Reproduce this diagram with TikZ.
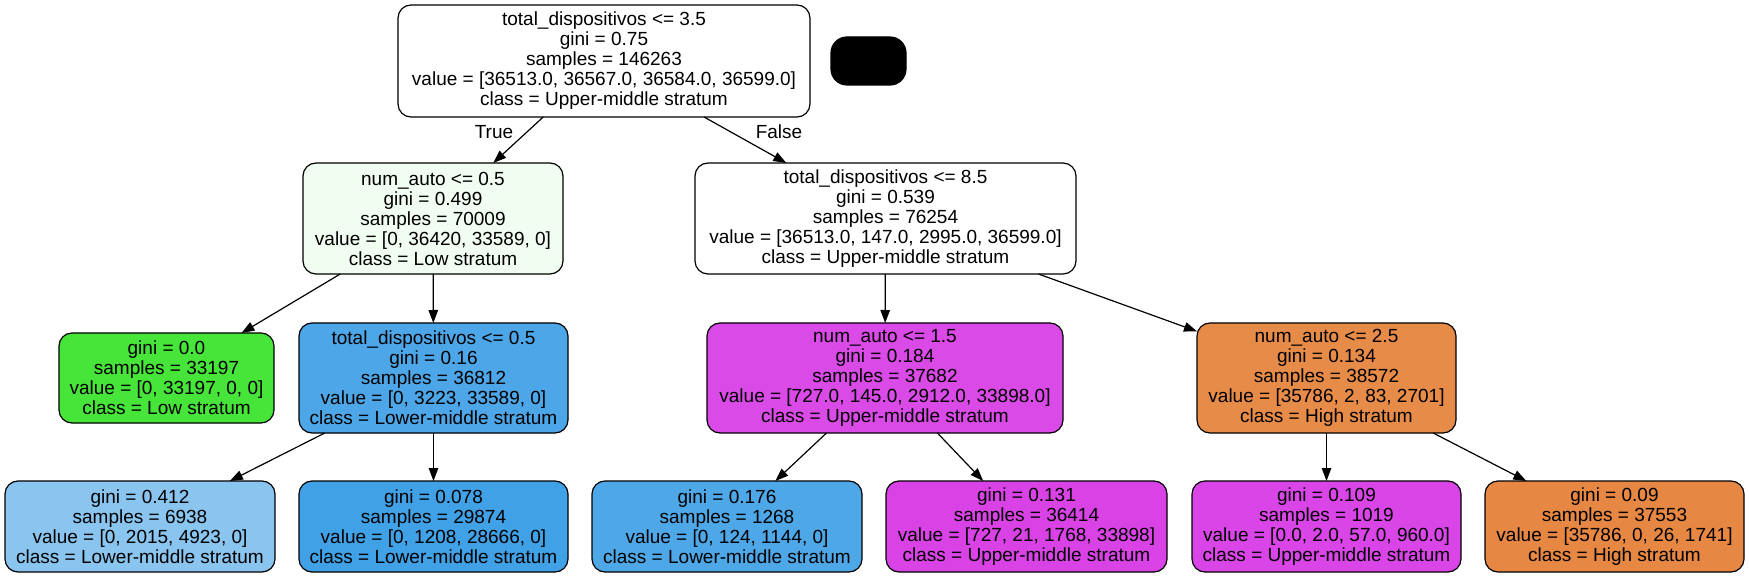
\documentclass[tikz,border=0pt]{standalone}
\usepackage{fontspec}
\setmainfont{Liberation Sans}
\usetikzlibrary{arrows.meta}
\newcommand\treefont{\fontsize{19}{20}\selectfont}
\definecolor{cRoot}{HTML}{FFFFFF}
\definecolor{cA}{HTML}{F1FDF0}
\definecolor{cB}{HTML}{FFFFFF}
\definecolor{cGreen}{HTML}{47E539}
\definecolor{cBL}{HTML}{4CA6E7}
\definecolor{cLB}{HTML}{8AC5F0}
\definecolor{cB2}{HTML}{41A1E6}
\definecolor{cB3}{HTML}{4EA8E8}
\definecolor{cMG}{HTML}{DA4AE7}
\definecolor{cM2}{HTML}{D943E6}
\definecolor{cM3}{HTML}{D945E7}
\definecolor{cOR}{HTML}{E78B48}
\definecolor{cO2}{HTML}{E68743}
\tikzset{
  tn/.style={draw=black, rounded corners=13pt, inner sep=0pt, outer sep=0pt,
    align=center, font=\treefont, line width=1.2pt},
  edge/.style={line width=1.2pt, -{Triangle[length=13pt,width=9.5pt]}},
  lbl/.style={font=\treefont, inner sep=0pt}
}
\begin{document}
\begin{tikzpicture}[x=1pt,y=-1pt]
\useasboundingbox[fill=white] (0,0) rectangle (1749,577);
% level 0
\node[tn, fill=cRoot, minimum width=412pt, minimum height=112pt] (root) at (604,61)
  {total\_dispositivos <= 3.5\\gini = 0.75\\samples = 146263\\value = [36513.0, 36567.0, 36584.0, 36599.0]\\class = Upper-middle stratum};
\node[draw=black, fill=black, rounded corners=16pt, line width=1.2pt, inner sep=0pt,
  minimum width=75pt, minimum height=48pt] (blk) at (868.5,61) {};
% level 1
\node[tn, fill=cA, minimum width=260pt, minimum height=111pt] (A) at (433,218.5)
  {num\_auto <= 0.5\\gini = 0.499\\samples = 70009\\value = [0, 36420, 33589, 0]\\class = Low stratum};
\node[tn, fill=cB, minimum width=381pt, minimum height=111pt] (B) at (885.5,218.5)
  {total\_dispositivos <= 8.5\\gini = 0.539\\samples = 76254\\value = [36513.0, 147.0, 2995.0, 36599.0]\\class = Upper-middle stratum};
% level 2
\node[tn, fill=cGreen, minimum width=215pt, minimum height=90pt] (G) at (166.5,378)
  {gini = 0.0\\samples = 33197\\value = [0, 33197, 0, 0]\\class = Low stratum};
\node[tn, fill=cBL, minimum width=269pt, minimum height=110pt] (BL) at (433.5,378)
  {total\_dispositivos <= 0.5\\gini = 0.16\\samples = 36812\\value = [0, 3223, 33589, 0]\\class = Lower-middle stratum};
\node[tn, fill=cMG, minimum width=356pt, minimum height=110pt] (MG) at (885,378)
  {num\_auto <= 1.5\\gini = 0.184\\samples = 37682\\value = [727.0, 145.0, 2912.0, 33898.0]\\class = Upper-middle stratum};
\node[tn, fill=cOR, minimum width=259pt, minimum height=110pt] (OR) at (1326.5,378)
  {num\_auto <= 2.5\\gini = 0.134\\samples = 38572\\value = [35786, 2, 83, 2701]\\class = High stratum};
% level 3
\node[tn, fill=cLB, minimum width=270pt, minimum height=91pt] (LB) at (140,526.5)
  {gini = 0.412\\samples = 6938\\value = [0, 2015, 4923, 0]\\class = Lower-middle stratum};
\node[tn, fill=cB2, minimum width=269pt, minimum height=91pt] (B2) at (433.5,526.5)
  {gini = 0.078\\samples = 29874\\value = [0, 1208, 28666, 0]\\class = Lower-middle stratum};
\node[tn, fill=cB3, minimum width=270pt, minimum height=91pt] (B3) at (727,526.5)
  {gini = 0.176\\samples = 1268\\value = [0, 124, 1144, 0]\\class = Lower-middle stratum};
\node[tn, fill=cM2, minimum width=281pt, minimum height=91pt] (M2) at (1026.5,526.5)
  {gini = 0.131\\samples = 36414\\value = [727, 21, 1768, 33898]\\class = Upper-middle stratum};
\node[tn, fill=cM3, minimum width=269pt, minimum height=91pt] (M3) at (1326.5,526.5)
  {gini = 0.109\\samples = 1019\\value = [0.0, 2.0, 57.0, 960.0]\\class = Upper-middle stratum};
\node[tn, fill=cO2, minimum width=259pt, minimum height=91pt] (O2) at (1614.5,526.5)
  {gini = 0.09\\samples = 37553\\value = [35786, 0, 26, 1741]\\class = High stratum};
% edges
\draw[edge] (root) -- (A);
\draw[edge] (root) -- (B);
\draw[edge] (A) -- (G);
\draw[edge] (A) -- (BL);
\draw[edge] (B) -- (MG);
\draw[edge] (B) -- (OR);
\draw[edge] (BL) -- (LB);
\draw[edge] (BL) -- (B2);
\draw[edge] (MG) -- (B3);
\draw[edge] (MG) -- (M2);
\draw[edge] (OR) -- (M3);
\draw[edge] (OR) -- (O2);
% edge labels
\node[lbl] (ltrue) at (494,132) {True};
\node[lbl] (lfalse) at (779,132) {False};
\end{tikzpicture}
\end{document}
